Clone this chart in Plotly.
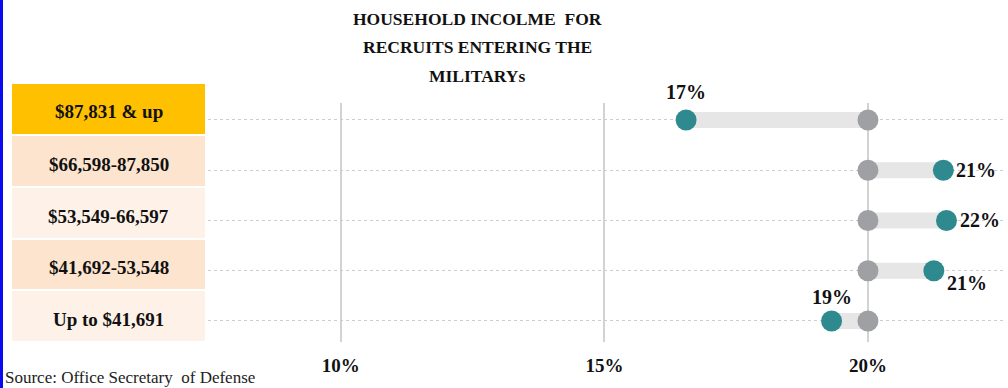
import plotly.graph_objects as go

# ---- data ----
categories = ["$87,831 & up", "$66,598-87,850", "$53,549-66,597", "$41,692-53,548", "Up to $41,691"]
recruit_share = [16.55, 21.43, 21.49, 21.25, 19.31]
baseline_share = [20, 20, 20, 20, 20]
value_labels = ["17%", "21%", "22%", "21%", "19%"]
tick_values = [10, 15, 20]
tick_labels = ["10%", "15%", "20%"]
title_lines = ["HOUSEHOLD INCOLME  FOR", "RECRUITS ENTERING THE", "MILITARYs"]
source_text = "Source: Office Secretary  of Defense"

# ---- style ----
W, H = 1008, 388
TEAL = "#2E8A8E"
GREY = "#9EA0A3"
BAR = "#E6E6E6"
SERIF = "Liberation Serif, Times New Roman, serif"
box_colors = ["#FFC000", "#FCE4CE", "#FEF2E8", "#FCE4CE", "#FEF2E8"]
box_px = [(84, 134), (136, 186), (188, 238), (240, 289), (291, 341)]
label_shift = [(0, 28), (33, 0), (34, 0), (33, -12), (0, 24)]

fig = go.Figure()

# connecting bars
for cat, b, v in zip(categories, baseline_share, recruit_share):
    fig.add_trace(go.Scatter(x=[b, v], y=[cat, cat], mode="lines",
                             line=dict(color=BAR, width=16), hoverinfo="skip",
                             showlegend=False))

fig.add_trace(go.Scatter(x=baseline_share, y=categories, mode="markers",
                         marker=dict(color=GREY, size=21), showlegend=False))
fig.add_trace(go.Scatter(x=recruit_share, y=categories, mode="markers",
                         marker=dict(color=TEAL, size=21), showlegend=False))

annotations = []
for cat, v, lab, (dx, dy) in zip(categories, recruit_share, value_labels, label_shift):
    annotations.append(dict(x=v, y=cat, xref="x", yref="y", text=lab, showarrow=False,
                            xshift=dx, yshift=dy,
                            font=dict(family=SERIF, size=20, color="#111111", weight="bold")))

shapes = []
for cat, col, (y0, y1) in zip(categories, box_colors, box_px):
    shapes.append(dict(type="rect", xref="paper", yref="paper",
                       x0=12 / W, x1=205 / W, y0=1 - y1 / H, y1=1 - y0 / H,
                       fillcolor=col, line=dict(width=0), layer="below"))
    annotations.append(dict(x=108.5 / W, y=1 - ((y0 + y1) / 2 + 3) / H, xref="paper", yref="paper",
                            text=cat, showarrow=False, xanchor="center", yanchor="middle",
                            font=dict(family=SERIF, size=19, color="#111111", weight="bold")))

# left blue edge
shapes.append(dict(type="rect", xref="paper", yref="paper", x0=0, x1=3 / W, y0=0, y1=1,
                   fillcolor="#0A0AF0", line=dict(width=0)))

for i, (line, ypx) in enumerate(zip(title_lines, [19, 47, 76])):
    annotations.append(dict(x=477 / W, y=1 - ypx / H, xref="paper", yref="paper", text=line,
                            showarrow=False, xanchor="center", yanchor="middle",
                            font=dict(family=SERIF, size=17.5, color="#111111", weight="bold")))

annotations.append(dict(x=3 / W, y=1 - 377 / H, xref="paper", yref="paper", text=source_text,
                        showarrow=False, xanchor="left", yanchor="middle",
                        font=dict(family=SERIF, size=17, color="#222222")))

fig.update_layout(
    width=W, height=H,
    margin=dict(l=0, r=0, t=0, b=0),
    paper_bgcolor="white", plot_bgcolor="white",
    shapes=shapes, annotations=annotations,
    xaxis=dict(domain=[208 / W, 1005 / W], range=[7.48, 22.6],
               tickvals=tick_values, ticktext=tick_labels,
               showgrid=True, gridcolor="#D3D3D3", gridwidth=1.5,
               zeroline=False, showline=False, ticks="", ticklabelstandoff=10,
               tickfont=dict(family=SERIF, size=19, color="#111111", weight="bold")),
    yaxis=dict(domain=[1 - 342 / H, 1 - 103 / H], type="category",
               categoryorder="array", categoryarray=list(reversed(categories)),
               range=[-0.418, 4.338], showticklabels=False,
               showgrid=True, gridcolor="#CDCDCD", gridwidth=1, griddash="dot",
               zeroline=False, showline=False, ticks=""),
)

fig.write_html("out.html", config={"displayModeBar": False},
               post_script="document.body.style.margin='0';document.body.style.overflow='hidden';")
